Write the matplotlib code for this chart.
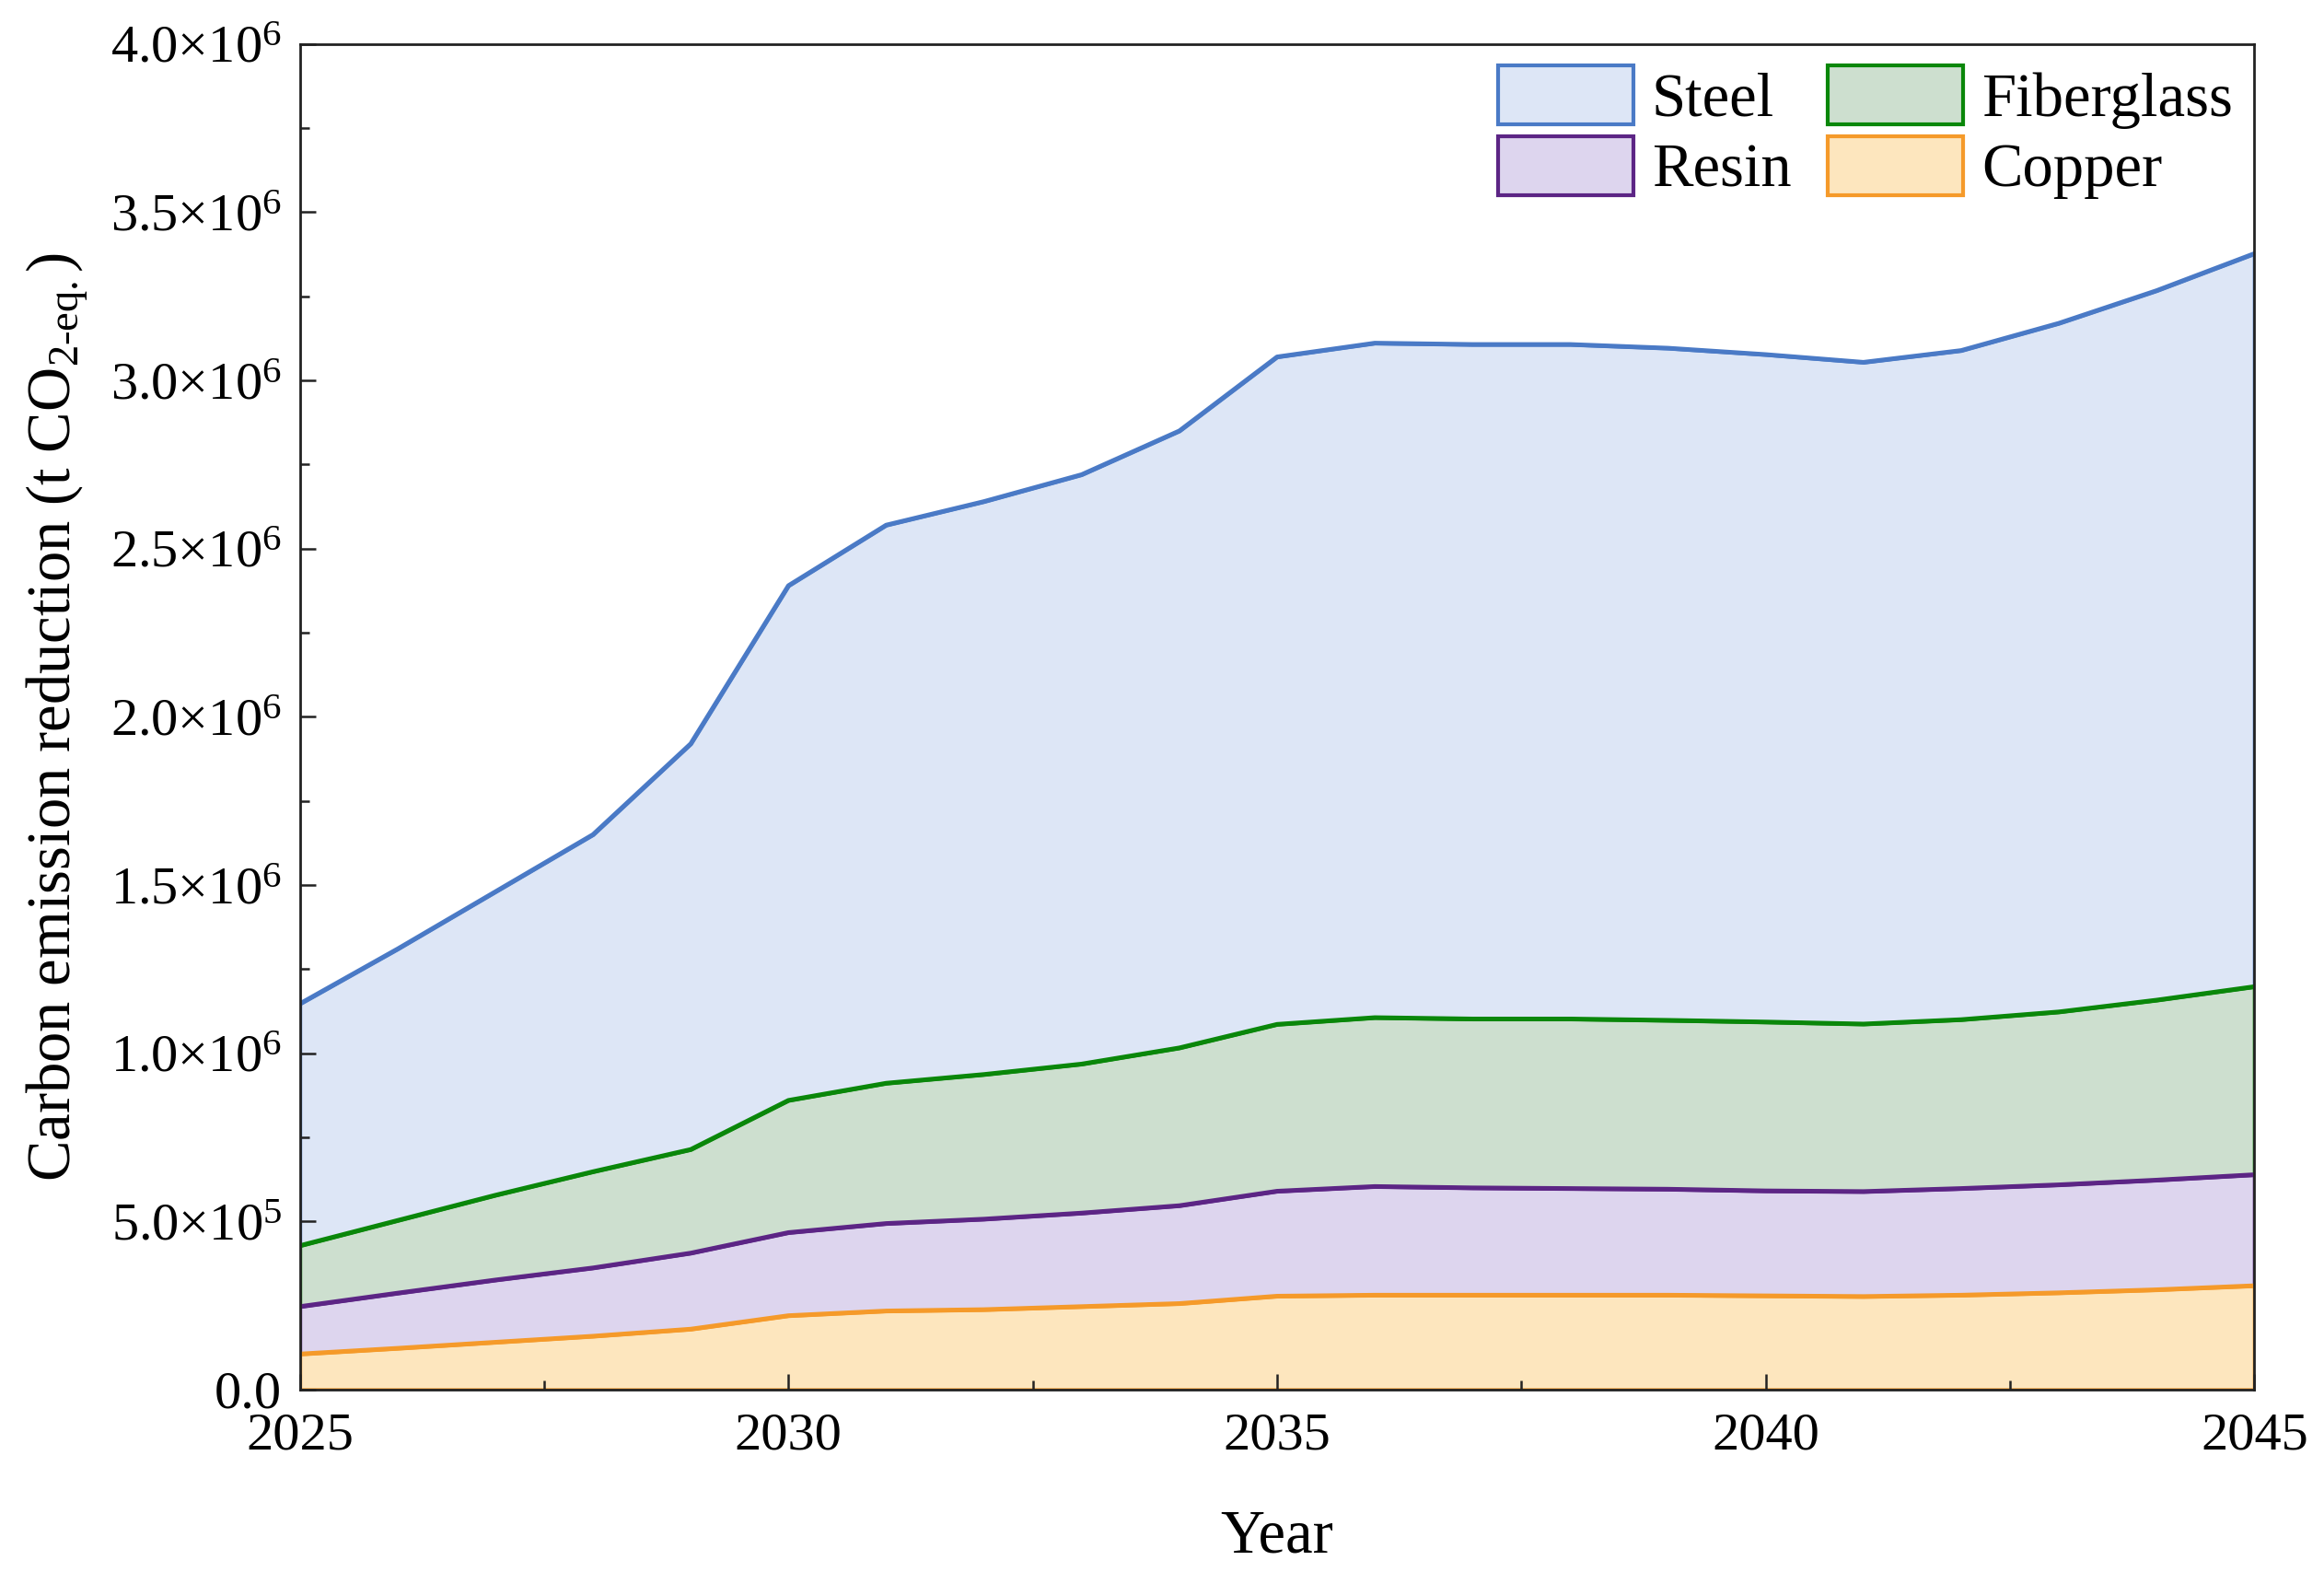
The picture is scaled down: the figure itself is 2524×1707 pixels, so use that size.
import matplotlib.pyplot as plt
import numpy as np
from matplotlib.patches import Patch
from matplotlib.ticker import MultipleLocator, FuncFormatter

plt.rcParams['font.family'] = ['Liberation Serif', 'DejaVu Serif']
plt.rcParams['mathtext.fontset'] = 'custom'
plt.rcParams['mathtext.rm'] = 'Liberation Serif'
plt.rcParams['mathtext.it'] = 'Liberation Serif:italic'

# data, values (million t CO2-eq.), each layer's own share
years = np.arange(2025, 2046)
copper = [0.106, 0.123, 0.141, 0.159, 0.180, 0.220, 0.234, 0.238, 0.247, 0.256, 0.278,
          0.281, 0.281, 0.281, 0.281, 0.279, 0.277, 0.281, 0.288, 0.297, 0.309]
resin = [0.141, 0.164, 0.185, 0.203, 0.226, 0.247, 0.260, 0.269, 0.278, 0.291, 0.312,
         0.323, 0.319, 0.317, 0.315, 0.312, 0.312, 0.317, 0.321, 0.326, 0.330]
fiberglass = [0.181, 0.216, 0.252, 0.286, 0.308, 0.393, 0.417, 0.430, 0.443, 0.469, 0.496,
              0.502, 0.502, 0.504, 0.502, 0.502, 0.498, 0.502, 0.514, 0.535, 0.559]
steel = [0.719, 0.807, 0.902, 1.002, 1.206, 1.530, 1.659, 1.703, 1.752, 1.834, 1.984,
         2.005, 2.005, 2.005, 1.998, 1.984, 1.967, 1.989, 2.047, 2.109, 2.179]

names = ['Copper', 'Resin', 'Fiberglass', 'Steel']
line_cols = ['#f59a2a', '#5c2585', '#0a870a', '#4a7ac6']
fill_cols = ['#fde6be', '#ddd5ee', '#cddfcf', '#dde6f6']

layers = np.array([copper, resin, fiberglass, steel]) * 1e6
tops = np.cumsum(layers, axis=0)
bottoms = np.vstack([np.zeros(len(years)), tops[:-1]])

fig = plt.figure(figsize=(25.24, 17.07), dpi=100)
ax = fig.add_axes([0.129, 0.116, 0.841, 0.856])

# draw top layer first so lower layer outlines sit on top
for i in [3, 2, 1, 0]:
    ax.fill_between(years, bottoms[i], tops[i], facecolor=fill_cols[i],
                    edgecolor=line_cols[i], linewidth=3)
    ax.plot(years, tops[i], color=line_cols[i], lw=3.5)

ax.set_xlim(2025, 2045)
ax.set_ylim(0, 4e6)
ax.xaxis.set_major_locator(MultipleLocator(5))
ax.xaxis.set_minor_locator(MultipleLocator(2.5))
ax.yaxis.set_major_locator(MultipleLocator(5e5))
ax.yaxis.set_minor_locator(MultipleLocator(2.5e5))

def sci(v, pos):
    if v <= 0:
        return '0.0'
    e = int(np.floor(np.log10(v) + 1e-9))
    return '%.1f×10$^{%d}$' % (v / 10**e, e)

ax.yaxis.set_major_formatter(FuncFormatter(sci))

ax.tick_params(which='both', direction='in', top=False, right=False, width=1.8,
               colors='#222222', labelcolor='black')
ax.tick_params(which='major', length=12, labelsize=42)
ax.tick_params(which='minor', length=7)
ax.tick_params(axis='x', pad=18)
ax.tick_params(axis='y', pad=14)
for s in ax.spines.values():
    s.set_linewidth(2)
    s.set_color('#222222')
    s.set_zorder(5)

ax.set_xlabel('Year', fontsize=48, labelpad=38)
ax.set_ylabel(r'Carbon emission reduction (t CO$_{\mathrm{2\text{-}eq.}}$)', fontsize=48, labelpad=16)

handles = [Patch(facecolor=fill_cols[i], edgecolor=line_cols[i], linewidth=3, label=names[i])
           for i in [3, 1, 2, 0]]
ax.legend(handles=handles, ncol=2, loc='upper right', frameon=False, fontsize=48,
          handlelength=2.2, handleheight=1.1, handletextpad=0.3, columnspacing=0.6,
          labelspacing=0.12, borderpad=0.2, borderaxespad=0.15)

fig.savefig('out.png', dpi=100)
